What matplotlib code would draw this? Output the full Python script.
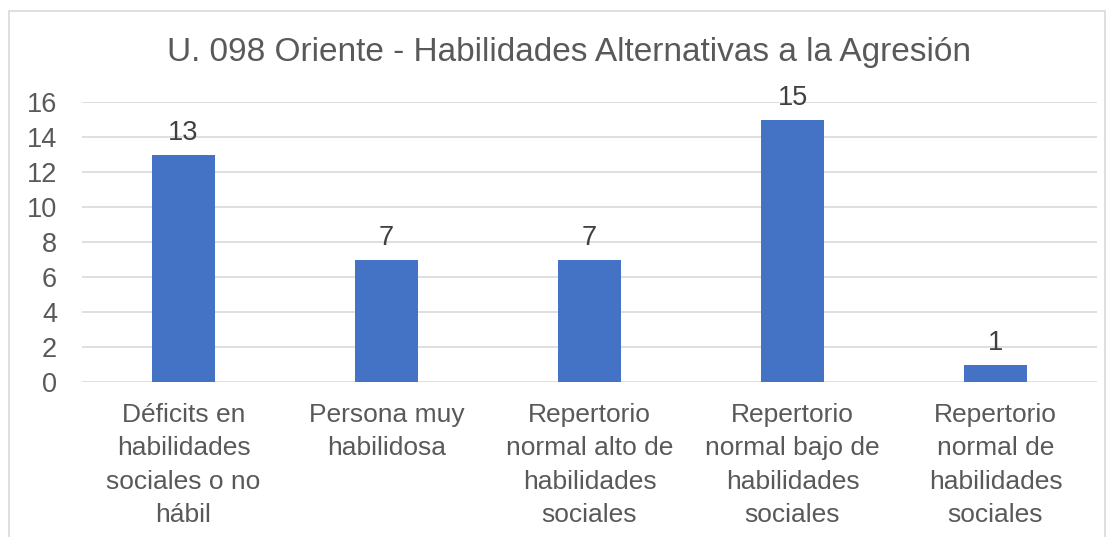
import numpy as np
import matplotlib.pyplot as plt
from matplotlib.patches import Rectangle

plt.rcParams['font.family'] = ['Liberation Sans', 'DejaVu Sans']

# Datos del gráfico
categorias = [
    'Déficits en\nhabilidades\nsociales o no\nhábil',
    'Persona muy\nhabilidosa',
    'Repertorio\nnormal alto de\nhabilidades\nsociales',
    'Repertorio\nnormal bajo de\nhabilidades\nsociales',
    'Repertorio\nnormal de\nhabilidades\nsociales',
]
valores = [13, 7, 7, 15, 1]
titulo = 'U. 098 Oriente - Habilidades Alternativas a la Agresión'

fig = plt.figure(figsize=(11.10, 5.37), dpi=100)
ax = fig.add_axes([82/1110, 1 - 382/537, (1097 - 82)/1110, (382 - 102)/537])

# Marco del gráfico
fig.patches.append(Rectangle((9/1110, -0.05), (1105 - 9)/1110, 1 - 11/537 + 0.05,
                             transform=fig.transFigure, fill=False,
                             edgecolor='#d9d9d9', linewidth=1.2))

x = np.arange(len(categorias))
barras = ax.bar(x, valores, width=0.315, color='#4472c4', zorder=3)
for xi, v in zip(x, valores):
    ax.annotate(str(v), (xi, v), xytext=(0, 6), textcoords='offset points',
                ha='center', va='bottom', fontsize=19.5, color='#404040')

ax.set_xlim(-0.5, len(categorias) - 0.5)
ax.set_ylim(0, 16)
ax.set_yticks(range(0, 17, 2))
ax.yaxis.grid(True, color='#d9d9d9', linewidth=1.2, zorder=0)
for s in ax.spines.values():
    s.set_visible(False)
ax.tick_params(axis='both', length=0, labelsize=19.5, labelcolor='#595959')
ax.tick_params(axis='y', pad=18)
ax.tick_params(axis='x', pad=15)
ax.set_xticks(x)
ax.set_xticklabels(categorias, fontsize=19)
for etiqueta in ax.get_xticklabels():
    etiqueta.set_linespacing(1.5)

fig.text(569/1110, 1 - 52/537, titulo, ha='center', va='center', fontsize=24, color='#595959')

fig.savefig('out.png', dpi=100)
